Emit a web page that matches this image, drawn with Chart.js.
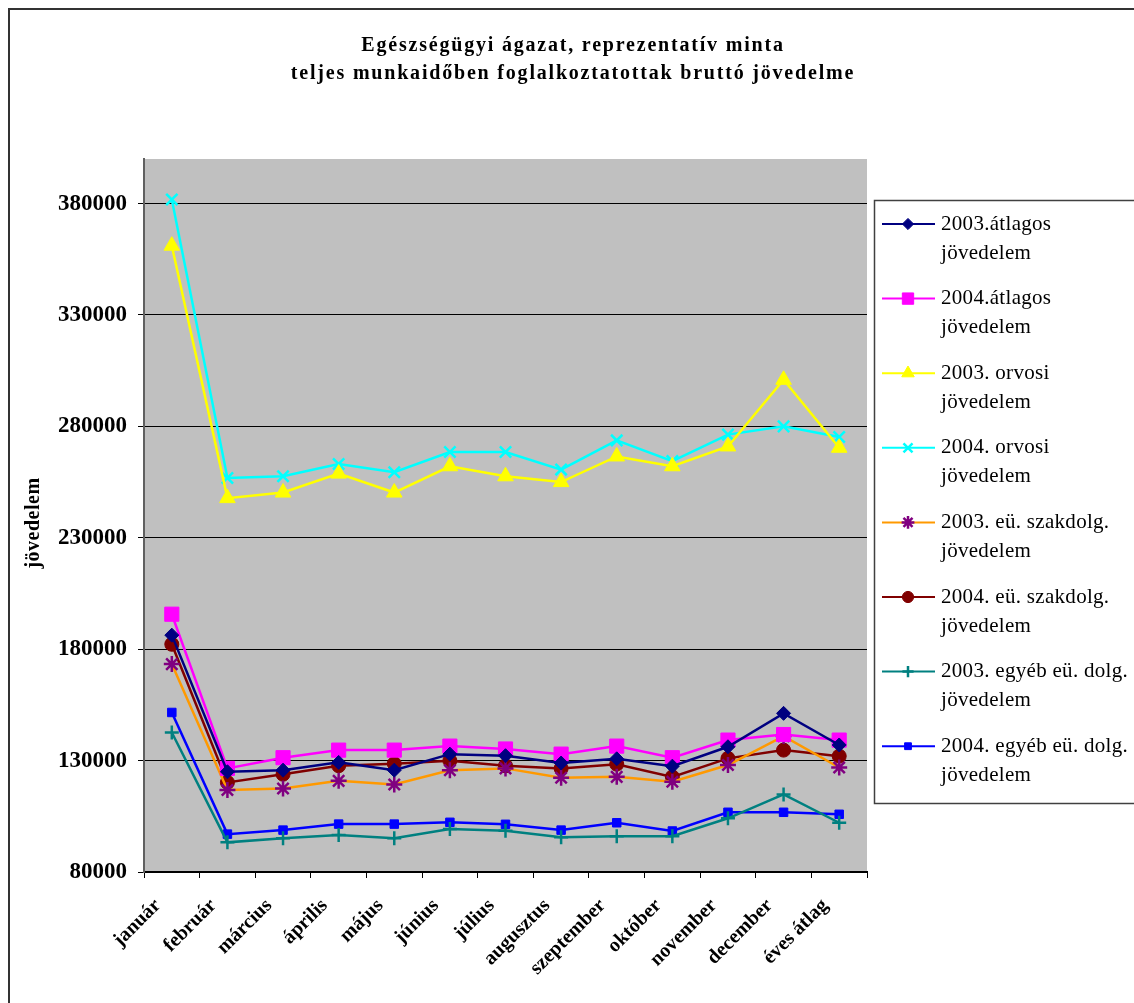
<!DOCTYPE html>
<html>
<head>
<meta charset="utf-8">
<script src="https://cdn.jsdelivr.net/npm/chart.js@4/dist/chart.umd.min.js"></script>
<style>
  html, body { margin: 0; padding: 0; background: #fff; }
  #c { display: block; }
</style>
</head>
<body>
<canvas id="c" width="1134" height="1003"></canvas>
<script>
// categories (months + yearly average)
const months = ["január", "február", "március", "április", "május", "június", "július",
                "augusztus", "szeptember", "október", "november", "december", "éves átlag"];

// series values
const atlag2003  = [186300, 125000, 125700, 129200, 125700, 132900, 132200, 128900, 130800, 127500, 136200, 151200, 137000];
const atlag2004  = [195700, 126500, 131300, 134700, 134700, 136500, 135200, 132900, 136500, 131300, 139200, 141700, 139200];
const orvos2003  = [361100, 247800, 250300, 258800, 250300, 262100, 257600, 255000, 266500, 262100, 271000, 300900, 270400];
const orvos2004  = [381800, 256800, 257600, 263100, 259400, 268500, 268500, 260600, 273700, 264400, 276300, 280000, 275200];
const szak2003   = [173300, 116800, 117500, 120900, 119300, 125700, 126500, 122300, 122700, 120500, 128000, 141000, 126900];
const szak2004   = [182200, 120200, 123900, 127700, 128600, 129900, 127700, 126500, 128400, 122700, 131000, 134700, 132000];
const egyeb2003  = [142600, 93300, 95100, 96600, 95100, 99300, 98500, 95600, 96100, 96100, 104100, 114800, 102100];
const egyeb2004  = [151600, 97000, 98800, 101500, 101500, 102300, 101400, 98800, 102100, 98400, 106800, 106800, 105900];

const seriesNames = ["2003.átlagos jövedelem", "2004.átlagos jövedelem", "2003. orvosi jövedelem",
                     "2004. orvosi jövedelem", "2003. eü. szakdolg. jövedelem", "2004. eü. szakdolg. jövedelem",
                     "2003. egyéb eü. dolg. jövedelem", "2004. egyéb eü. dolg. jövedelem"];

// axis ticks
const yTicks = [80000, 130000, 180000, 230000, 280000, 330000, 380000];
const yMin = 80000, yMax = 400000;

const titleLines = ["Egészségügyi ágazat, reprezentatív minta",
                    "teljes munkaidőben foglalkoztatottak bruttó jövedelme"];
const yTitle = "jövedelem";

const SERIF = '"Liberation Serif", "Times New Roman", serif';

function ds(label, data, line, pt, style, r, bw) {
  return {
    label: label, data: data,
    borderColor: line, backgroundColor: pt,
    pointBackgroundColor: pt, pointBorderColor: pt,
    pointStyle: style, pointRadius: r, pointHoverRadius: r,
    pointBorderWidth: bw || 1, borderWidth: 2.5, tension: 0
  };
}

const datasets = [
  ds(seriesNames[0], atlag2003, "#000080", "#000080", "rectRot", 7),
  ds(seriesNames[1], atlag2004, "#FF00FF", "#FF00FF", "rect", 10),
  ds(seriesNames[2], orvos2003, "#FFFF00", "#FFFF00", "triangle", 9),
  ds(seriesNames[3], orvos2004, "#00FFFF", "#00FFFF", "crossRot", 8, 2.5),
  ds(seriesNames[4], szak2003, "#FF9900", "#800080", "star", 8, 2.5),
  ds(seriesNames[5], szak2004, "#800000", "#800000", "circle", 7),
  ds(seriesNames[6], egyeb2003, "#008080", "#008080", "cross", 7, 2.5),
  ds(seriesNames[7], egyeb2004, "#0000FF", "#0000FF", "rect", 6)
];

// background, frame, title, y title, legend
const decor = {
  id: "decor",
  beforeDraw(chart) {
    const ctx = chart.ctx, a = chart.chartArea;
    ctx.save();
    ctx.fillStyle = "#fff";
    ctx.fillRect(0, 0, chart.width, chart.height);
    ctx.fillStyle = "#C0C0C0";
    ctx.fillRect(a.left, a.top, a.right - a.left, a.bottom - a.top);
    ctx.restore();
  },
  afterDraw(chart) {
    const ctx = chart.ctx;
    ctx.save();
    // outer frame (runs off the right and bottom edges)
    ctx.strokeStyle = "#333";
    ctx.lineWidth = 2;
    ctx.strokeRect(9, 9, 1300, 1200);

    // title
    ctx.fillStyle = "#000";
    ctx.font = "bold 20px " + SERIF;
    ctx.letterSpacing = "1.8px";
    ctx.textAlign = "center";
    ctx.textBaseline = "middle";
    ctx.fillText(titleLines[0], 573, 46);
    ctx.fillText(titleLines[1], 573, 74);
    ctx.letterSpacing = "0px";

    // y axis title
    ctx.save();
    ctx.translate(34, 523);
    ctx.rotate(-Math.PI / 2);
    ctx.font = "bold 20px " + SERIF;
    ctx.letterSpacing = "0.5px";
    ctx.fillText(yTitle, 0, 0);
    ctx.restore();

    // legend box
    ctx.strokeStyle = "#404040";
    ctx.lineWidth = 1.5;
    ctx.strokeRect(874.5, 200.5, 400, 603);
    ctx.font = "21px " + SERIF;
    ctx.letterSpacing = "0.3px";
    ctx.textAlign = "left";
    chart.data.datasets.forEach((d, i) => {
      const y = 224 + i * 74.6;
      ctx.strokeStyle = d.borderColor;
      ctx.lineWidth = 2;
      ctx.beginPath();
      ctx.moveTo(882, y);
      ctx.lineTo(935, y);
      ctx.stroke();
      ctx.fillStyle = d.pointBackgroundColor;
      ctx.strokeStyle = d.pointBorderColor;
      ctx.lineWidth = d.pointBorderWidth;
      Chart.helpers.drawPoint(ctx, {
        pointStyle: d.pointStyle, radius: d.pointRadius * 0.8,
        borderWidth: d.pointBorderWidth, rotation: 0
      }, 908, y);
      const cut = d.label.lastIndexOf(" ");
      ctx.fillStyle = "#000";
      ctx.fillText(d.label.slice(0, cut), 941, y);
      ctx.fillText(d.label.slice(cut + 1), 941, y + 29);
    });
    ctx.restore();
  }
};

new Chart(document.getElementById("c"), {
  type: "line",
  data: { labels: months, datasets: datasets },
  plugins: [decor],
  options: {
    responsive: false,
    animation: false,
    devicePixelRatio: 1,
    layout: { padding: { left: 0, top: 159, right: 267, bottom: 0 } },
    plugins: { legend: { display: false }, title: { display: false }, tooltip: { enabled: false } },
    scales: {
      x: {
        offset: true,
        afterFit(s) { s.height = 131; },
        grid: { display: true, drawOnChartArea: false, drawTicks: true, tickLength: 6,
                offset: true, color: "#000", lineWidth: 1 },
        border: { color: "#000", width: 2 },
        ticks: { autoSkip: false, minRotation: 45, maxRotation: 45, padding: 16, labelOffset: -14,
                 color: "#000", font: { family: SERIF, size: 20, weight: "bold" } }
      },
      y: {
        min: yMin, max: yMax,
        afterFit(s) { s.width = 144; },
        afterBuildTicks(s) { s.ticks = yTicks.map(v => ({ value: v })); },
        grid: { color: "#000", lineWidth: 1, tickLength: 6, tickColor: "#000" },
        border: { color: "#606060", width: 2 },
        ticks: { padding: 11, color: "#000", font: { family: SERIF, size: 23, weight: "bold" },
                 callback: v => String(v) }
      }
    }
  }
});
</script>
</body>
</html>
